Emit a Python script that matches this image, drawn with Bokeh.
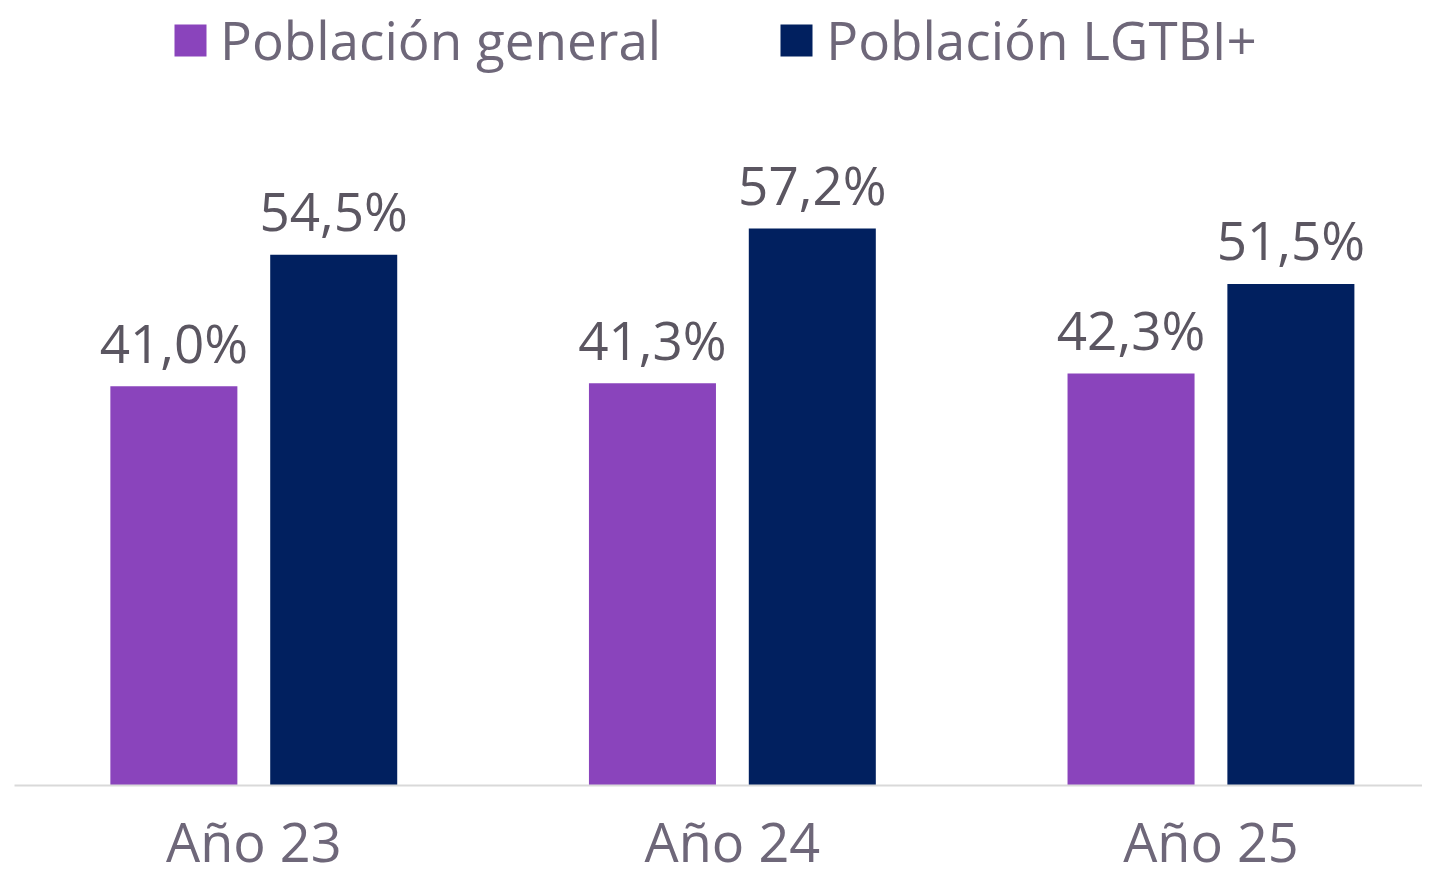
from bokeh.plotting import figure
from bokeh.models import ColumnDataSource, Range1d, FixedTicker, Legend, LegendItem
from bokeh.core.properties import value
from bokeh.transform import dodge
from bokeh.embed import file_html
from bokeh.resources import INLINE

categories = ["Año 23", "Año 24", "Año 25"]
series_names = ["Población general", "Población LGTBI+"]
general = [41.0, 41.3, 42.3]
lgtbi = [54.5, 57.2, 51.5]
colors = ["#8A44BC", "#01205F"]

FONT = "Open Sans"
TEXT_COLOR = "#6E6779"
LABEL_COLOR = "#5B5661"

x = list(range(len(categories)))

def fmt(v):
    return f"{v:.1f}".replace(".", ",") + "%"

src = ColumnDataSource(dict(
    x=x, general=general, lgtbi=lgtbi,
    general_lbl=[fmt(v) for v in general],
    lgtbi_lbl=[fmt(v) for v in lgtbi],
))

p = figure(frame_width=1408, frame_height=785,
           x_range=Range1d(-0.5, 2.442), y_range=Range1d(0, 80.6),
           output_backend="svg", toolbar_location=None,
           min_border_left=14, min_border_right=0, min_border_top=0, min_border_bottom=0)

bw = 0.2654
off = 0.167
r1 = p.vbar(x=dodge("x", -off), top="general", width=bw, source=src,
            color=colors[0], line_color=None)
r2 = p.vbar(x=dodge("x", off), top="lgtbi", width=bw, source=src,
            color=colors[1], line_color=None)

for col, lbl in (("general", "general_lbl"), ("lgtbi", "lgtbi_lbl")):
    p.text(x=dodge("x", -off if col == "general" else off), y=col, text=lbl, source=src,
           text_font=value(FONT), text_font_size="53px", text_color=LABEL_COLOR,
           text_align="center", text_baseline="alphabetic", y_offset=-44)

p.xaxis.ticker = FixedTicker(ticks=x)
p.xaxis.major_label_overrides = {i: c for i, c in zip(x, categories)}
p.xaxis.major_tick_line_color = None
p.xaxis.minor_tick_line_color = None
p.xaxis.axis_line_color = "#D9D9D9"
p.xaxis.axis_line_width = 2
p.xaxis.major_label_text_font = FONT
p.xaxis.major_label_text_font_size = "54px"
p.xaxis.major_label_text_color = TEXT_COLOR
p.xaxis.major_label_standoff = 12
p.yaxis.visible = False

p.xgrid.grid_line_color = None
p.ygrid.grid_line_color = None
p.outline_line_color = None
p.background_fill_color = "white"
p.border_fill_color = "white"

legend = Legend(items=[LegendItem(label=series_names[0], renderers=[r1]),
                       LegendItem(label=series_names[1], renderers=[r2])],
                orientation="horizontal", location=(156, 709),
                glyph_width=40, glyph_height=40, label_standoff=10, spacing=115,
                padding=0, margin=0, border_line_color=None,
                background_fill_alpha=0,
                label_text_font=FONT, label_text_font_size="53px",
                label_text_color=TEXT_COLOR)
p.add_layout(legend, "center")

open("out.html", "w").write(file_html(p, INLINE))
